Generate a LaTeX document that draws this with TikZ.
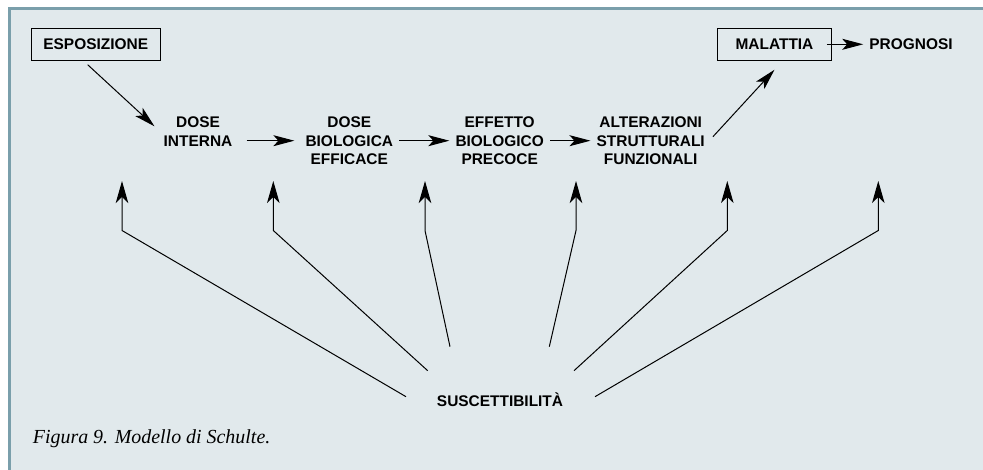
\documentclass[tikz,border=0pt]{standalone}
\usepackage{fontspec}
\setmainfont{Liberation Sans}
\newfontfamily\capfont{Liberation Serif}
\usetikzlibrary{arrows.meta,calc}
\definecolor{panel}{HTML}{E1E9EC}
\definecolor{rim}{HTML}{7A9FAB}
\begin{document}
\begin{tikzpicture}[x=1bp,y=-1bp,
  lbl/.style={font=\fontsize{15.5}{19}\selectfont\bfseries, align=center, inner sep=6bp},
  boxed/.style={lbl, draw, line width=0.9bp, minimum height=32bp},
  arr/.style={line width=1bp, -{Stealth[length=21bp,width=11bp,inset=5bp]}},
  varr/.style={line width=1bp, line join=miter, -{Stealth[length=22bp,width=12.5bp,inset=6bp]}},
  captxt/.style={font=\capfont\itshape\fontsize{20}{22}\selectfont, inner sep=0pt, anchor=base west}]
\useasboundingbox (0,0) rectangle (983,470);
\fill[panel] (9.5,8.7) rectangle (983,470);
\draw[rim, line width=2.5bp] (9.5,470) -- (9.5,8.7) -- (983,8.7);

% nodes
\node[boxed, minimum width=129.3bp] (esp) at (95.7,44.3) {ESPOSIZIONE};
\node[boxed, minimum width=113.6bp] (mal) at (774.5,44.3) {MALATTIA};
\node[lbl] (prog) at (911,44.3) {PROGNOSI};
\node[lbl] (di) at (198,131.3) {DOSE\\INTERNA};
\node[lbl] (dbe) at (349.3,140.7) {DOSE\\BIOLOGICA\\EFFICACE};
\node[lbl] (ebp) at (499.7,140.7) {EFFETTO\\BIOLOGICO\\PRECOCE};
\node[lbl] (asf) at (650.7,140.7) {ALTERAZIONI\\STRUTTURALI\\FUNZIONALI};
\node[lbl] (sus) at (500,400) {SUSCETTIBILITÀ};
\node[captxt] (cap) at (32.7,443) {Figura 9. Modello di Schulte.};

% main chain
\draw[arr] ($(esp.south)+(-8,4)$) -- ($(di.west)+(-3,-5)$);
\draw[arr] ($(di.east |- dbe.west)+(8,0)$) -- ($(dbe.west)+(-5,0)$);
\draw[arr] (dbe.east) -- (ebp.west);
\draw[arr] (ebp.east) -- (asf.west);
\draw[arr] ($(asf.east)+(2,-4)$) -- ($(mal.south)+(0,9)$);
\draw[arr] ($(mal.east)+(-5,0)$) -- (prog.west);

% susceptibility connectors
\coordinate (s1) at (406,396.7);
\coordinate (s2) at (427.7,370.7);
\coordinate (s3) at (450,346.7);
\coordinate (s4) at (549.3,346.7);
\coordinate (s5) at (574,370.7);
\coordinate (s6) at (595,396.7);
\foreach \i/\x in {1/122,2/273.3,3/425,4/576,5/727.3,6/878.3}{
  \coordinate (b\i) at (\x,230.5);
  \coordinate (t\i) at (\x,181);
  \draw[varr] (s\i) -- (b\i) -- (t\i);
}
\end{tikzpicture}
\end{document}
